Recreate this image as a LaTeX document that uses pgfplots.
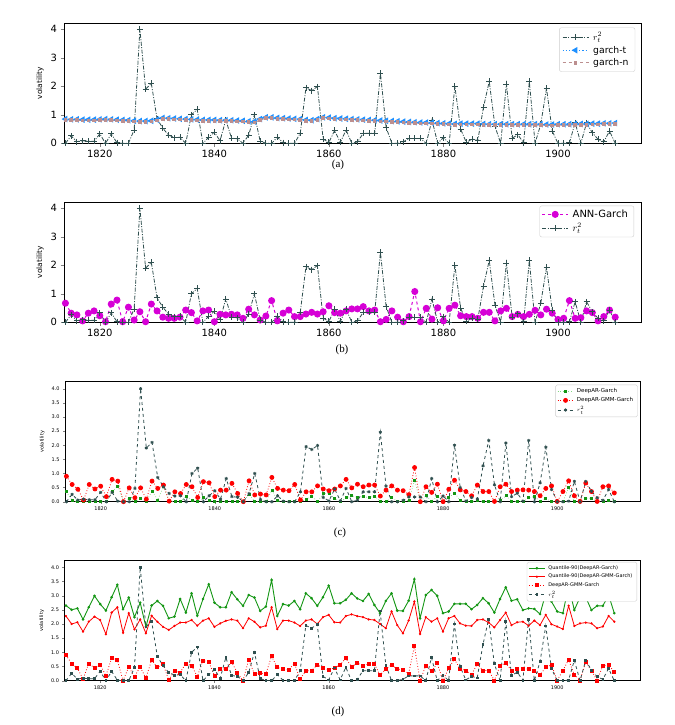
\documentclass[border=0pt]{standalone}
\usepackage{fontspec}
\setmainfont{DejaVu Sans}
\newfontfamily\capfont{Liberation Serif}
\usepackage{pgfplots}
\usepackage{pgfplotstable}
\pgfplotsset{compat=1.18}
\definecolor{dslate}{RGB}{47,79,79}
\definecolor{dodger}{RGB}{30,144,255}
\definecolor{rosy}{RGB}{188,143,143}
\definecolor{mag}{RGB}{214,0,214}
\definecolor{grn}{RGB}{20,150,20}
\definecolor{lgrn}{RGB}{130,215,130}

\pgfplotstableread{
year r2 gt gn ann dg dgmm qg qgmm
1814 0.00 0.85 0.82 0.67 0.35 0.90 2.65 2.28
1815 0.26 0.84 0.81 0.32 0.04 0.61 2.50 2.00
1816 0.06 0.84 0.81 0.26 0.00 0.44 2.55 2.06
1817 0.09 0.83 0.80 0.05 0.00 0.06 2.16 1.73
1818 0.07 0.83 0.80 0.32 0.02 0.61 2.59 2.08
1819 0.07 0.83 0.80 0.40 0.00 0.45 2.99 2.26
1820 0.33 0.84 0.81 0.23 0.02 0.55 2.70 2.14
1821 0.00 0.85 0.82 0.02 0.00 0.18 2.47 1.64
1822 0.33 0.84 0.81 0.64 0.35 0.79 2.94 2.40
1823 0.02 0.83 0.80 0.78 0.56 0.73 3.38 2.59
1824 0.00 0.82 0.79 0.02 0.00 0.00 2.52 1.69
1825 0.00 0.81 0.78 0.53 0.12 0.49 2.93 2.38
1826 0.47 0.79 0.76 0.08 0.00 0.14 2.24 1.81
1827 4.00 0.78 0.75 0.37 0.12 0.49 2.75 2.16
1828 1.90 0.78 0.75 0.02 0.00 0.09 1.90 1.67
1829 2.10 0.79 0.76 0.64 0.38 0.73 2.65 2.29
1830 0.86 0.83 0.80 0.40 0.06 0.47 2.81 2.08
1831 0.53 0.89 0.86 0.18 0.53 0.59 2.64 1.90
1832 0.29 0.88 0.85 0.14 0.00 0.02 2.20 1.79
1833 0.20 0.87 0.84 0.14 0.02 0.35 2.26 1.93
1834 0.21 0.86 0.83 0.18 0.02 0.29 2.88 2.05
1835 0.00 0.85 0.82 0.43 0.18 0.61 2.40 2.05
1836 1.00 0.84 0.81 0.34 0.06 0.53 3.08 2.14
1837 1.19 0.83 0.80 0.05 0.00 0.15 2.29 1.94
1838 0.00 0.82 0.79 0.40 0.14 0.71 2.88 2.12
1839 0.21 0.82 0.79 0.43 0.06 0.67 3.40 2.20
1840 0.39 0.82 0.79 0.02 0.00 0.18 2.75 1.90
1841 0.09 0.81 0.78 0.28 0.00 0.41 2.59 2.02
1842 0.82 0.81 0.78 0.26 0.02 0.41 2.59 2.11
1843 0.18 0.81 0.78 0.28 0.02 0.65 3.12 2.16
1844 0.16 0.80 0.77 0.26 0.02 0.29 2.87 2.12
1845 0.00 0.79 0.76 0.14 0.00 0.00 2.64 1.85
1846 0.29 0.77 0.74 0.46 0.26 0.74 3.02 2.20
1847 1.00 0.76 0.73 0.26 0.00 0.24 2.93 2.08
1848 0.08 0.85 0.82 0.08 0.00 0.27 2.46 1.88
1849 0.00 0.91 0.88 0.22 0.02 0.24 2.61 1.94
1850 0.00 0.91 0.88 0.76 0.41 0.86 3.55 2.59
1851 0.21 0.89 0.86 0.05 0.04 0.47 2.28 1.82
1852 0.02 0.88 0.85 0.32 0.00 0.41 2.70 2.12
1853 0.00 0.87 0.84 0.43 0.00 0.39 2.65 2.12
1854 0.00 0.86 0.83 0.20 0.02 0.61 2.81 2.05
1855 0.35 0.85 0.82 0.20 0.00 0.06 2.52 1.93
1856 1.95 0.82 0.79 0.29 0.09 0.35 3.08 2.12
1857 1.85 0.81 0.78 0.35 0.20 0.35 2.91 2.16
1858 1.99 0.85 0.82 0.29 0.00 0.56 2.64 2.00
1859 0.15 0.91 0.88 0.37 0.29 0.45 2.94 2.24
1860 0.03 0.90 0.87 0.58 0.29 0.39 3.35 2.32
1861 0.45 0.88 0.85 0.34 0.12 0.45 2.73 2.06
1862 0.03 0.87 0.84 0.32 0.00 0.56 2.73 2.05
1863 0.47 0.86 0.83 0.40 0.14 0.79 2.85 2.28
1864 0.00 0.85 0.82 0.47 0.21 0.49 3.08 2.34
1865 0.05 0.84 0.81 0.47 0.15 0.62 2.90 2.28
1866 0.35 0.83 0.80 0.55 0.18 0.53 2.81 2.24
1867 0.35 0.82 0.79 0.40 0.15 0.59 3.06 2.16
1868 0.35 0.81 0.78 0.43 0.19 0.59 2.67 2.14
1869 2.46 0.80 0.77 0.02 0.02 0.20 2.38 2.00
1870 0.55 0.79 0.76 0.10 0.00 0.41 2.81 1.85
1871 0.00 0.78 0.75 0.40 0.15 0.56 3.08 2.44
1872 0.00 0.77 0.74 0.18 0.00 0.41 2.47 1.96
1873 0.05 0.76 0.73 0.02 0.00 0.39 2.46 1.67
1874 0.17 0.75 0.72 0.20 0.05 0.25 2.82 2.12
1875 0.17 0.74 0.71 1.08 0.76 1.21 3.58 2.79
1876 0.17 0.73 0.70 0.02 0.00 0.00 2.20 1.65
1877 0.00 0.73 0.70 0.49 0.21 0.53 3.02 2.24
1878 0.82 0.72 0.69 0.11 0.02 0.33 3.20 2.08
1879 0.00 0.71 0.68 0.51 0.19 0.62 2.99 2.20
1880 0.20 0.70 0.67 0.05 0.00 0.00 2.38 1.73
1881 0.00 0.69 0.66 0.49 0.15 0.44 2.44 2.20
1882 2.00 0.68 0.65 0.60 0.31 0.76 2.71 2.28
1883 0.50 0.69 0.66 0.23 0.05 0.42 2.71 2.02
1884 0.03 0.69 0.66 0.20 0.00 0.36 2.71 1.94
1885 0.15 0.69 0.66 0.20 0.00 0.21 2.52 1.93
1886 0.10 0.69 0.66 0.14 0.05 0.59 2.67 2.14
1887 1.27 0.68 0.65 0.35 0.00 0.36 2.91 2.16
1888 2.17 0.67 0.64 0.35 0.00 0.36 2.73 2.05
1889 0.60 0.67 0.64 0.05 0.00 0.01 2.40 1.88
1890 0.00 0.67 0.64 0.40 0.05 0.53 2.88 2.14
1891 2.08 0.67 0.64 0.49 0.21 0.62 3.29 2.40
1892 0.18 0.67 0.64 0.20 0.02 0.36 2.82 1.96
1893 0.30 0.67 0.64 0.28 0.00 0.41 2.87 2.06
1894 0.02 0.67 0.64 0.20 0.00 0.42 2.49 2.08
1895 2.17 0.67 0.64 0.28 0.15 0.41 2.55 1.94
1896 0.00 0.67 0.64 0.42 0.18 0.36 2.53 2.12
1897 0.67 0.67 0.64 0.26 0.02 0.21 2.35 1.96
1898 1.93 0.66 0.63 0.46 0.12 0.47 3.08 2.32
1899 0.43 0.66 0.63 0.32 0.00 0.56 2.79 1.99
1900 0.00 0.67 0.64 0.10 0.00 0.01 2.44 1.91
1901 0.00 0.67 0.64 0.14 0.00 0.36 2.38 1.82
1902 0.02 0.67 0.64 0.76 0.51 0.74 3.34 2.64
1903 0.72 0.68 0.65 0.14 0.00 0.21 2.49 1.93
1904 0.00 0.68 0.65 0.16 0.00 0.01 2.94 2.02
1905 0.72 0.68 0.65 0.40 0.12 0.66 2.94 2.05
1906 0.37 0.69 0.66 0.34 0.12 0.36 2.49 2.02
1907 0.14 0.69 0.66 0.05 0.00 0.01 2.64 1.85
1908 0.05 0.70 0.67 0.20 0.00 0.53 2.64 1.91
1909 0.43 0.70 0.67 0.43 0.06 0.56 3.02 2.28
1910 0.00 0.71 0.68 0.18 0.00 0.31 2.38 2.08
}\data

\pgfplotsset{
  base/.style={
    scale only axis, xmin=1813.75, xmax=1914.5, ymin=0,
    xtick={1820,1840,1860,1880,1900},
    x tick label style={/pgf/number format/1000 sep={}},
    tick align=outside, xtick pos=bottom, ytick pos=left,
    major tick length=3.5bp,
    /pgf/number format/assume math mode=true,
    axis line style={line width=0.8bp},
    legend cell align=left,
    clip=true,
  },
  big/.style={
    base, width=577bp, height=120bp, ymax=4.21, ytick={0,1,2,3,4},
    tick label style={font=\fontsize{10}{12}\selectfont},
    ylabel={volatility},
    ylabel style={font=\fontsize{7.5}{9}\selectfont},
    legend image code/.code={\draw[mark repeat=2,mark phase=2,##1] plot coordinates {(0bp,0bp) (13bp,0bp) (26bp,0bp)};},
  },
  small/.style={
    base, width=575bp, height=120bp, ymax=4.25,
    ytick={0,0.5,1,1.5,2,2.5,3,3.5,4},
    y tick label style={/pgf/number format/.cd, fixed, fixed zerofill, precision=1},
    tick label style={font=\fontsize{5}{6}\selectfont},
    major tick length=2bp,
    axis line style={line width=0.6bp},
    ylabel={volatility},
    ylabel style={font=\fontsize{5}{6}\selectfont},
    legend image code/.code={\draw[mark repeat=2,mark phase=2,##1] plot coordinates {(0bp,0bp) (8bp,0bp) (16bp,0bp)};},
  },
}

\begin{document}
\begin{tikzpicture}
\path[use as bounding box] (0,0) rectangle (675bp,-725bp);

% (a)
\begin{axis}[big, at={(64bp,-143.3bp)}, anchor=south west,
  legend style={at={(0.99,0.965)}, anchor=north east, font=\fontsize{9.3}{11}\selectfont,
    draw=black!20, rounded corners=2bp, inner sep=2.5bp, row sep=0bp,
    nodes={inner xsep=4bp}}]
\addplot[dslate, line width=0.8bp, dash pattern=on 4bp off 1.5bp on 1bp off 1.5bp,
  mark=+, mark size=3bp, mark options={solid}] table[x=year,y=r2] {\data};
\addlegendentry{$r_t^2$}
\addplot[dodger, line width=1.3bp, dotted,
  mark=triangle*, mark size=2.6bp, mark options={solid, rotate=90}] table[x=year,y=gt] {\data};
\addlegendentry{garch-t}
\addplot[rosy, line width=1bp, dashed,
  mark=square*, mark size=1.3bp, mark options={solid}] table[x=year,y=gn] {\data};
\addlegendentry{garch-n}
\end{axis}
\node[font=\capfont\fontsize{11}{13}\selectfont] at (338bp,-165bp) {(a)};

% (b)
\begin{axis}[big, at={(64bp,-322.3bp)}, anchor=south west,
  legend style={at={(0.988,0.972)}, anchor=north east, font=\fontsize{10}{11.5}\selectfont,
    draw=black!20, rounded corners=2bp, inner sep=2bp, row sep=0.5bp,
    nodes={inner xsep=4bp}}]
\addplot[mag, line width=1bp, dashed,
  mark=*, mark size=3bp, mark options={solid}] table[x=year,y=ann] {\data};
\addlegendentry{ANN-Garch}
\addplot[dslate, line width=0.8bp, dash pattern=on 4bp off 1.5bp on 1bp off 1.5bp,
  mark=+, mark size=3bp, mark options={solid}] table[x=year,y=r2] {\data};
\addlegendentry{$r_t^2$}
\end{axis}
\node[font=\capfont\fontsize{11}{13}\selectfont] at (342bp,-350bp) {(b)};

% (c)
\begin{axis}[small, at={(65bp,-501.7bp)}, anchor=south west,
  legend style={at={(0.996,0.975)}, anchor=north east, font=\fontsize{5.5}{6.5}\selectfont,
    draw=black!20, rounded corners=1.5bp, inner sep=1.5bp, row sep=-0.5bp,
    nodes={inner xsep=3bp}}]
\addplot[lgrn, line width=0.7bp, dotted,
  mark=square*, mark size=1bp, mark options={solid, fill=grn, draw=grn}] table[x=year,y=dg] {\data};
\addlegendentry{DeepAR-Garch}
\addplot[red, line width=0.8bp, dotted,
  mark=*, mark size=2bp, mark options={solid}] table[x=year,y=dgmm] {\data};
\addlegendentry{DeepAR-GMM-Garch}
\addplot[dslate, line width=0.8bp, dashed,
  mark=asterisk, mark size=1.6bp, mark options={solid}] table[x=year,y=r2] {\data};
\addlegendentry{$r_t^2$}
\end{axis}
\node[font=\capfont\fontsize{11}{13}\selectfont] at (340bp,-533bp) {(c)};

% (d)
\begin{axis}[small, at={(64.5bp,-680.7bp)}, anchor=south west, width=575.5bp, ymax=4.23,
  legend style={at={(0.995,0.99)}, anchor=north east, font=\fontsize{5}{6}\selectfont,
    draw=black!20, rounded corners=1.5bp, inner sep=1.5bp, row sep=-0.8bp,
    nodes={inner xsep=3bp}}]
\addplot[grn, line width=0.9bp,
  mark=*, mark size=0.8bp] table[x=year,y=qg] {\data};
\addlegendentry{Quantile-90(DeepAR-Garch)}
\addplot[red, line width=0.8bp,
  mark=*, mark size=0.7bp] table[x=year,y=qgmm] {\data};
\addlegendentry{Quantile-90(DeepAR-GMM-Garch)}
\addplot[red, line width=0.8bp, dotted,
  mark=square*, mark size=1.5bp, mark options={solid}] table[x=year,y=dgmm] {\data};
\addlegendentry{DeepAR-GMM-Garch}
\addplot[dslate, line width=0.8bp, dashed,
  mark=square*, mark size=0.9bp, mark options={solid}] table[x=year,y=r2] {\data};
\addlegendentry{$r_t^2$}
\end{axis}
\node[font=\capfont\fontsize{11}{13}\selectfont] at (338bp,-712bp) {(d)};
\end{tikzpicture}
\end{document}
